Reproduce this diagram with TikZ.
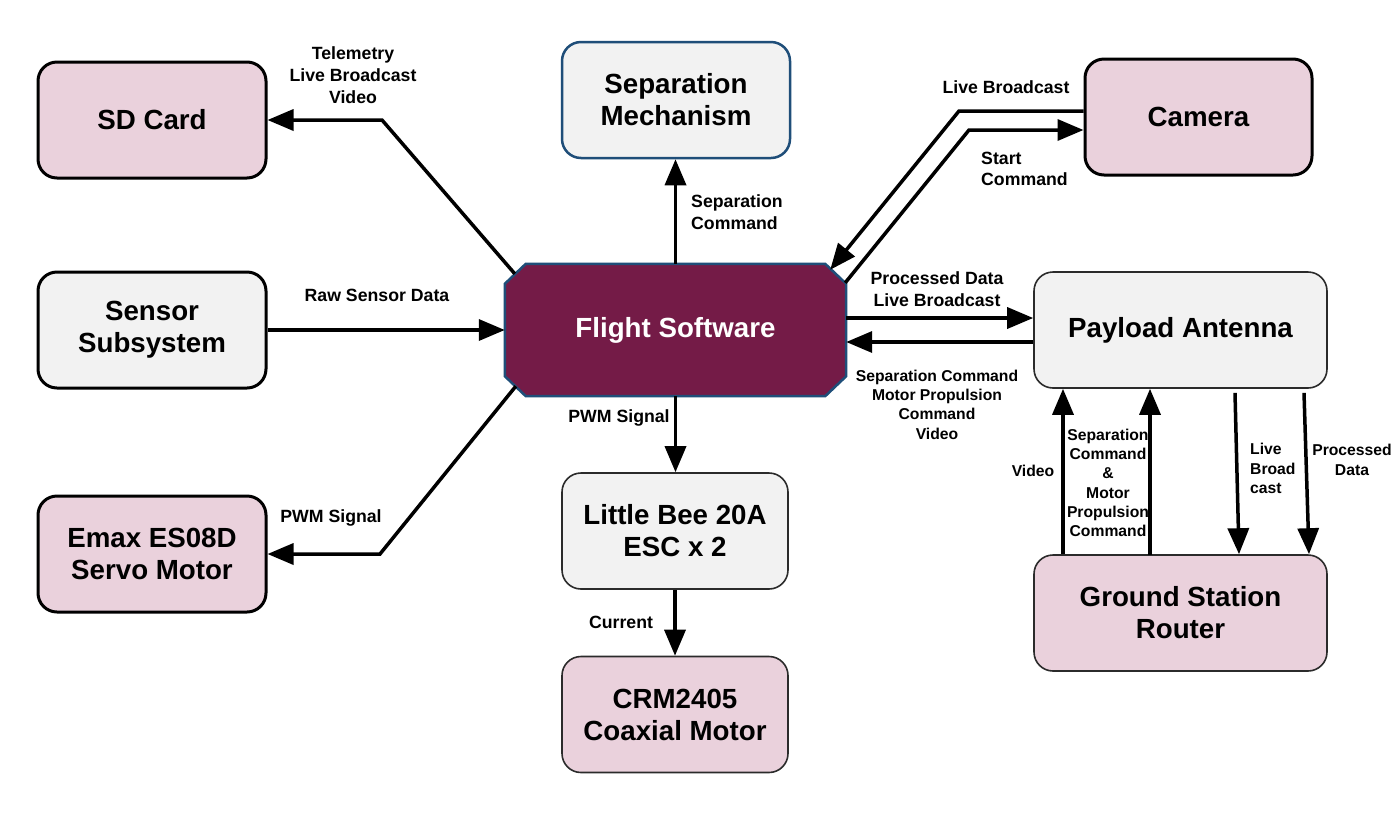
\documentclass[tikz,border=0pt]{standalone}
\usepackage{fontspec}
\setmainfont{Liberation Sans}
\usetikzlibrary{arrows.meta}
\definecolor{pinkfill}{HTML}{EAD1DC}
\definecolor{grayfill}{HTML}{F2F2F2}
\definecolor{fsfill}{HTML}{741B47}
\definecolor{navyborder}{HTML}{1F4E79}
\definecolor{thinborder}{HTML}{2B2B2B}
\tikzset{
  boxbase/.style={rectangle, rounded corners=19pt, minimum width=228pt, minimum height=116pt, align=center, inner sep=0pt,
    font=\bfseries\fontsize{27.7}{32}\selectfont},
  pinkbox/.style={boxbase, fill=pinkfill, draw=black, line width=3pt},
  greybox/.style={boxbase, fill=grayfill, draw=black, line width=3pt},
  sepbox/.style={boxbase, fill=grayfill, draw=navyborder, line width=2.5pt},
  thinpink/.style={boxbase, fill=pinkfill, draw=thinborder, line width=1.6pt},
  thingrey/.style={boxbase, fill=grayfill, draw=thinborder, line width=1.6pt},
  conn/.style={line width=3.5pt, draw=black, line join=miter},
  arr/.style={conn, -{Triangle[length=26pt, width=21pt]}},
  lbl/.style={align=center, inner sep=0pt, font=\bfseries\fontsize{17.7}{21.7}\selectfont},
  lbls/.style={align=center, inner sep=0pt, font=\bfseries\fontsize{15.7}{19.3}\selectfont},
}
\begin{document}
\begin{tikzpicture}[x=1pt, y=-1pt]
\useasboundingbox (0,0) rectangle (1395,823);
\fill[white] (0,0) rectangle (1395,823);

% boxes
\node[pinkbox] (sd) at (152,120) {SD Card};
\node[greybox] (sensor) at (152,330) {\raisebox{-4pt}{\begin{tabular}{@{}c@{}}Sensor\\Subsystem\end{tabular}}};
\node[pinkbox] (emax) at (152,554) {Emax ES08D\\Servo Motor};
\node[sepbox] (sep) at (676,100) {Separation\\Mechanism};
\node[pinkbox, minimum width=227pt] (camera) at (1198.5,117) {Camera};
\node[thingrey, minimum width=293pt] (antenna) at (1180.5,330) {Payload Antenna};
\node[thinpink, minimum width=293pt] (ground) at (1180.5,613) {Ground Station\\Router};
\node[thingrey, minimum width=226pt] (bee) at (675,531) {Little Bee 20A\\ESC x 2};
\node[thinpink, minimum width=226pt] (crm) at (675,714.5) {CRM2405\\Coaxial Motor};

% flight software octagon
\node[rectangle, minimum width=341pt, minimum height=132pt, inner sep=0pt] (fs) at (675.5,330) {};
\filldraw[fill=fsfill, draw=navyborder, line width=2.5pt, line join=miter]
  ([xshift=21pt]fs.north west) -- ([xshift=-21pt]fs.north east) -- ([yshift=-20pt]fs.north east)
  -- ([yshift=20pt]fs.south east) -- ([xshift=-21pt]fs.south east) -- ([xshift=21pt]fs.south west)
  -- ([yshift=20pt]fs.south west) -- ([yshift=-20pt]fs.north west) -- cycle;
\node[text=white, font=\bfseries\fontsize{27.7}{32}\selectfont] (fslabel) at (fs.center) {Flight Software};

% bend coordinates
\coordinate (sdbend) at (382,120);
\coordinate (emaxbend) at (380,554);
\coordinate (cambendA) at (959,111);
\coordinate (cambendB) at (969,130);

% connectors
\draw[arr] ([shift={(10,10)}]fs.north west) -- (sdbend) -- (sd.east);
\draw[arr] (sensor.east) -- (fs.west);
\draw[arr] ([shift={(11,-10)}]fs.south west) -- (emaxbend) -- (emax.east |- emaxbend);
\draw[arr] (fs.north) -- (fs.north |- sep.south);
\draw[arr] (camera.west |- cambendA) -- (cambendA) -- ([shift={(-16,6)}]fs.north east);
\draw[arr] ([shift={(-1,19)}]fs.north east) -- (cambendB) -- (camera.west |- cambendB);
\draw[arr] ([yshift=12pt]fs.east) -- ([yshift=12pt]antenna.west);
\draw[arr] ([yshift=-12pt]antenna.west) -- ([yshift=-12pt]fs.east);
\draw[arr] (fs.south) -- (fs.south |- bee.north);
\draw[arr] (bee.south) -- (crm.north);
\draw[arr] ([xshift=-117.5pt]ground.north) -- ([xshift=-117.5pt]antenna.south);
\draw[arr] ([shift={(-30.5,1)}]ground.north) -- ([xshift=-30.5pt]antenna.south);
\draw[arr] ([shift={(54.5,4)}]antenna.south) -- ([xshift=58.5pt]ground.north);
\draw[arr] ([shift={(123.5,4)}]antenna.south) -- ([xshift=128.5pt]ground.north);

% labels
\node[lbl] (lsd) at (353,75) {Telemetry\\Live Broadcast\\Video};
\node[lbl] (lraw) at (377,295) {Raw Sensor Data};
\node[lbl] (lpwm1) at (331,518) {PWM Signal};
\node[lbl, align=left, anchor=west] (lsep) at (691,212.5) {Separation\\Command};
\node[lbl] (llive) at (1006,87) {Live Broadcast};
\node[lbl, align=left, anchor=west] (lstart) at (981,169) {Start\\Command};
\node[lbl] (lproc) at (937,289) {Processed Data\\Live Broadcast};
\node[lbls] (lsepcmd) at (937,404.5) {Separation Command\\Motor Propulsion\\Command\\Video};
\node[lbl] (lpwm2) at (619,418) {PWM Signal};
\node[lbl] (lcur) at (621,622) {Current};
\node[lbls] (lvideo) at (1033,471) {Video};
\node[lbls] (lsepmot) at (1108,483) {Separation\\Command\\\&\\Motor\\Propulsion\\Command};
\node[lbls, align=left, anchor=west] (lbroad) at (1250,468.5) {Live\\Broad\\cast};
\node[lbls] (lprocd) at (1352,460) {Processed\\Data};
\end{tikzpicture}
\end{document}
